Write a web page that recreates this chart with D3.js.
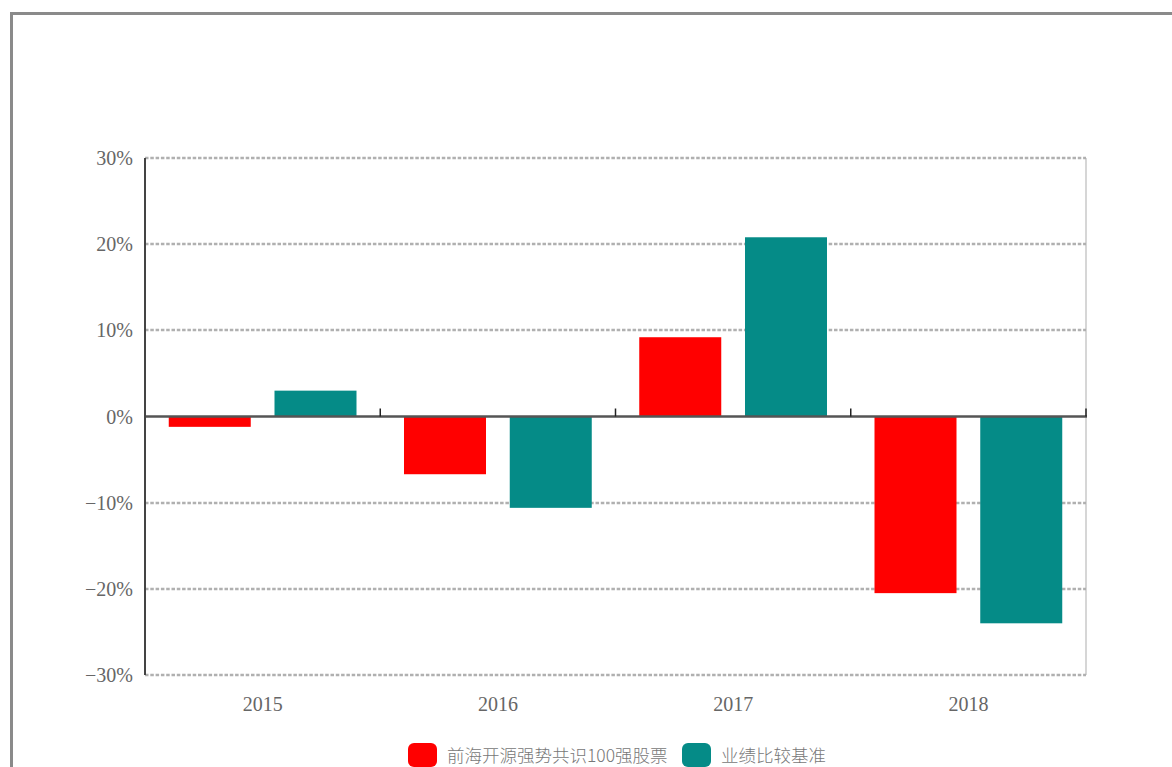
<!DOCTYPE html>
<html>
<head>
<meta charset="utf-8">
<script src="https://cdn.jsdelivr.net/npm/d3@7"></script>
<style>
  html, body { margin: 0; padding: 0; background: #fff; overflow: hidden; }
</style>
</head>
<body>
<div id="chart"></div>
<script>
const years = ['2015', '2016', '2017', '2018'];
const seriesNames = ['前海开源强势共识100强股票', '业绩比较基准'];
const fundReturns = [-1.2, -6.7, 9.2, -20.5];
const benchReturns = [3.0, -10.6, 20.8, -24.0];
const yTicks = [30, 20, 10, 0, -10, -20, -30];
const colors = ['#ff0000', '#058b87'];

const width = 1172;
const height = 767;
const plot = { left: 145, right: 1086, top: 158, bottom: 675 };

const svg = d3.select('#chart')
    .append('svg')
    .attr('width', width)
    .attr('height', height);

// outer frame, runs off the page on right and bottom
svg.append('rect')
    .attr('x', 11.5).attr('y', 13.5)
    .attr('width', 1300).attr('height', 900)
    .attr('fill', 'none')
    .attr('stroke', '#8a8a8a')
    .attr('stroke-width', 3);

const x = d3.scaleBand()
    .domain(years)
    .range([plot.left, plot.right]);

const xSeries = d3.scaleBand()
    .domain([0, 1])
    .range([0, x.bandwidth()])
    .padding(0.2246);

const y = d3.scaleLinear()
    .domain([-30, 30])
    .range([plot.bottom, plot.top]);

const fmt = d => (d < 0 ? '\u2212' + Math.abs(d) : d) + '%';

// right border of plot
svg.append('line')
    .attr('x1', plot.right).attr('x2', plot.right)
    .attr('y1', plot.top).attr('y2', plot.bottom)
    .attr('stroke', '#c8c8c8')
    .attr('stroke-width', 1.5);

// grid lines
svg.append('g')
    .selectAll('line')
    .data(yTicks.filter(d => d !== 0))
    .join('line')
    .attr('x1', plot.left).attr('x2', plot.right)
    .attr('y1', d => Math.round(y(d))).attr('y2', d => Math.round(y(d)))
    .attr('stroke', '#b0b0b0')
    .attr('stroke-width', 2.5)
    .attr('stroke-dasharray', '3.5,1.8');

// bars
const rows = years.map((yr, i) => ({ year: yr, values: [fundReturns[i], benchReturns[i]] }));
svg.append('g')
    .selectAll('g')
    .data(rows)
    .join('g')
    .attr('transform', d => `translate(${x(d.year)},0)`)
    .selectAll('rect')
    .data(d => d.values.map((v, i) => ({ v, i })))
    .join('rect')
    .attr('x', d => xSeries(d.i))
    .attr('width', xSeries.bandwidth())
    .attr('y', d => y(Math.max(0, d.v)))
    .attr('height', d => Math.abs(y(d.v) - y(0)))
    .attr('fill', d => colors[d.i]);

// zero line with category ticks
svg.append('line')
    .attr('x1', plot.left).attr('x2', plot.right + 1)
    .attr('y1', y(0)).attr('y2', y(0))
    .attr('stroke', '#555')
    .attr('stroke-width', 2.5);

svg.append('g')
    .selectAll('line')
    .data(years.slice(1).map(d => x(d)).concat([plot.right]))
    .join('line')
    .attr('x1', d => d).attr('x2', d => d)
    .attr('y1', y(0)).attr('y2', y(0) - 8)
    .attr('stroke', '#222')
    .attr('stroke-width', 1.5);

// left axis line
svg.append('line')
    .attr('x1', plot.left).attr('x2', plot.left)
    .attr('y1', plot.top).attr('y2', plot.bottom)
    .attr('stroke', '#444')
    .attr('stroke-width', 2);

// y labels
svg.append('g')
    .selectAll('text')
    .data(yTicks)
    .join('text')
    .attr('x', 133)
    .attr('y', d => y(d))
    .attr('dy', '0.35em')
    .attr('text-anchor', 'end')
    .attr('font-family', '"Liberation Serif", serif')
    .attr('font-size', 20)
    .attr('fill', '#666')
    .text(fmt);

// x labels
svg.append('g')
    .selectAll('text')
    .data(years)
    .join('text')
    .attr('x', d => x(d) + x.bandwidth() / 2)
    .attr('y', 711)
    .attr('text-anchor', 'middle')
    .attr('font-family', '"Liberation Serif", serif')
    .attr('font-size', 20)
    .attr('fill', '#666')
    .text(d => d);

// legend
const legendX = [408, 682];
const legend = svg.append('g')
    .selectAll('g')
    .data(seriesNames)
    .join('g')
    .attr('transform', (d, i) => `translate(${legendX[i]},743)`);
legend.append('rect')
    .attr('width', 29).attr('height', 24)
    .attr('rx', 6)
    .attr('fill', (d, i) => colors[i]);
legend.append('text')
    .attr('x', 39)
    .attr('y', 19)
    .attr('font-family', '"Noto Sans CJK SC", sans-serif')
    .attr('font-size', 17.5)
    .attr('font-weight', 300)
    .attr('fill', '#777')
    .text(d => d);
</script>
</body>
</html>
